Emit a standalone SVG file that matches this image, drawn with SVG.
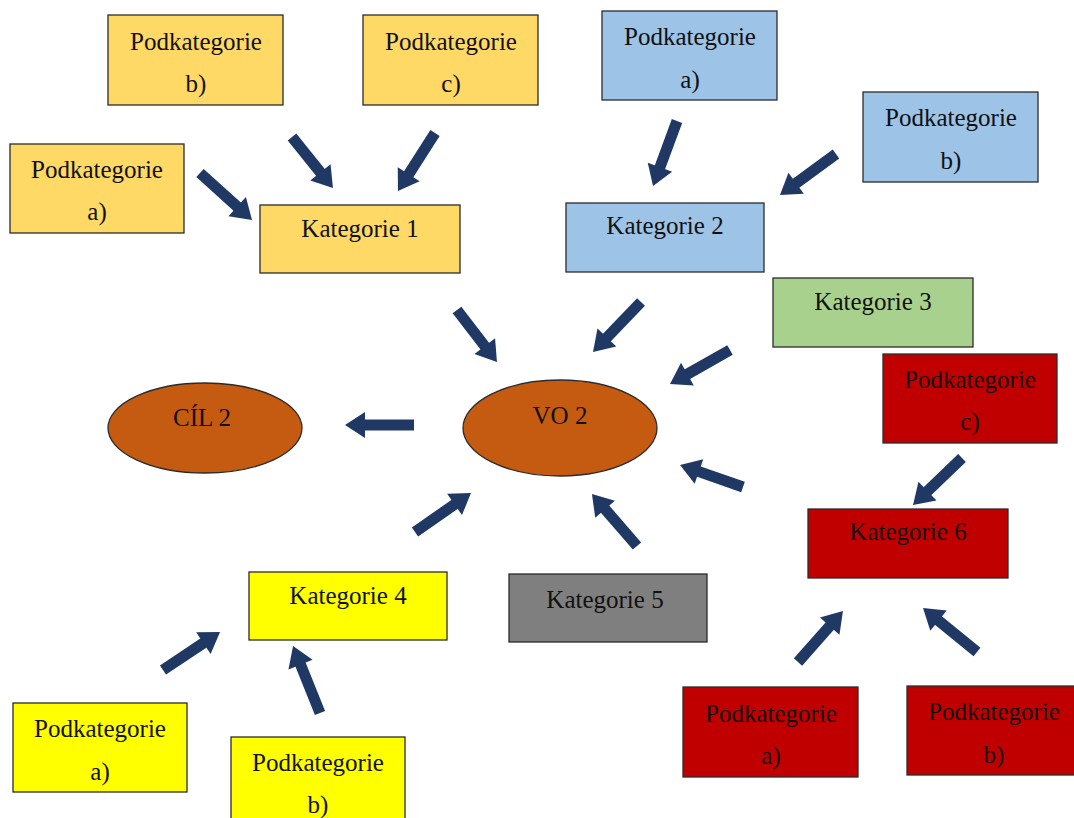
<svg xmlns="http://www.w3.org/2000/svg" width="1074" height="818" viewBox="0 0 1074 818">
<style>
.bx{stroke:#2b2b2b;stroke-width:1.3}
.o{fill:#FFD966}.b{fill:#9DC3E6}.g{fill:#A9D18E}.y{fill:#FFFF00}.gr{fill:#7F7F7F}.r{fill:#C00000}.el{fill:#C55A11;stroke:#2b2b2b;stroke-width:1.3}
text{font-family:"Liberation Serif","Times New Roman",serif;font-size:25px;fill:#111;text-anchor:middle}
.ar{stroke:#1F3864;stroke-width:11;fill:none;marker-end:url(#ah)}
</style>
<defs>
<marker id="ah" markerUnits="userSpaceOnUse" markerWidth="21" markerHeight="27" viewBox="0 0 21 27" refX="3" refY="13.5" orient="auto" overflow="visible">
<path d="M0,0.5 L20,13.5 L0,26.5 z" fill="#1F3864"/>
</marker>
</defs>
<rect width="1074" height="818" fill="#fff"/>
<g id="connectors">
<line class="ar" x1="292" y1="137" x2="322.3" y2="174.7"/>
<line class="ar" x1="435" y1="133" x2="407.1" y2="176.7"/>
<line class="ar" x1="200" y1="173" x2="239.4" y2="208.6"/>
<line class="ar" x1="677" y1="121" x2="658.9" y2="170.1"/>
<line class="ar" x1="836" y1="154" x2="793.7" y2="185"/>
<line class="ar" x1="457" y1="310" x2="486.6" y2="348.5"/>
<line class="ar" x1="641" y1="302" x2="604.8" y2="339.7"/>
<line class="ar" x1="730" y1="350" x2="684.8" y2="375.6"/>
<line class="ar" x1="414" y1="425" x2="362" y2="425"/>
<line class="ar" x1="743" y1="487" x2="696.1" y2="470.6"/>
<line class="ar" x1="637" y1="546" x2="603.1" y2="506.9"/>
<line class="ar" x1="415" y1="532" x2="457" y2="502.7"/>
<line class="ar" x1="163" y1="670" x2="205.9" y2="641.4"/>
<line class="ar" x1="320" y1="713" x2="299.4" y2="661.8"/>
<line class="ar" x1="962" y1="458" x2="925.3" y2="493.2"/>
<line class="ar" x1="798" y1="662" x2="831.7" y2="623.8"/>
<line class="ar" x1="977" y1="652" x2="936.2" y2="618.7"/>
</g>
<g id="k1pb"><rect class="bx o" x="108" y="15" width="175" height="90"/><text x="196" y="50">Podkategorie</text><text x="196" y="92">b)</text></g>
<g id="k1pc"><rect class="bx o" x="363" y="15" width="175" height="90"/><text x="451" y="50">Podkategorie</text><text x="451" y="92">c)</text></g>
<g id="k1pa"><rect class="bx o" x="10" y="144" width="174" height="89"/><text x="97" y="178">Podkategorie</text><text x="97" y="220">a)</text></g>
<g id="k1"><rect class="bx o" x="260" y="205" width="200" height="68"/><text x="360" y="237">Kategorie 1</text></g>
<g id="k2pa"><rect class="bx b" x="602" y="11" width="175" height="89"/><text x="690" y="45">Podkategorie</text><text x="690" y="88">a)</text></g>
<g id="k2pb"><rect class="bx b" x="863" y="92" width="175" height="90"/><text x="951" y="126">Podkategorie</text><text x="951" y="169">b)</text></g>
<g id="k2"><rect class="bx b" x="566" y="203" width="198" height="69"/><text x="665" y="234">Kategorie 2</text></g>
<g id="k3"><rect class="bx g" x="773" y="278" width="200" height="69"/><text x="873" y="310">Kategorie 3</text></g>
<g id="cil2"><ellipse class="el" cx="205" cy="428" rx="97" ry="45"/><text x="202" y="426">CÍL 2</text></g>
<g id="vo2"><ellipse class="el" cx="560" cy="428" rx="97" ry="48"/><text x="560" y="424">VO 2</text></g>
<g id="k6pc"><rect class="bx r" x="883" y="354" width="174" height="89"/><text x="970" y="388">Podkategorie</text><text x="970" y="430">c)</text></g>
<g id="k6"><rect class="bx r" x="808" y="509" width="200" height="69"/><text x="908" y="540">Kategorie 6</text></g>
<g id="k6pa"><rect class="bx r" x="683" y="687" width="175" height="90"/><text x="771" y="722">Podkategorie</text><text x="771" y="764">a)</text></g>
<g id="k6pb"><rect class="bx r" x="907" y="686" width="175" height="89"/><text x="994" y="720">Podkategorie</text><text x="994" y="763">b)</text></g>
<g id="k4"><rect class="bx y" x="249" y="572" width="198" height="68"/><text x="348" y="604">Kategorie 4</text></g>
<g id="k5"><rect class="bx gr" x="509" y="574" width="198" height="68"/><text x="605" y="608">Kategorie 5</text></g>
<g id="k4pa"><rect class="bx y" x="13" y="703" width="174" height="89"/><text x="100" y="737">Podkategorie</text><text x="100" y="780">a)</text></g>
<g id="k4pb"><rect class="bx y" x="231" y="737" width="174" height="90"/><text x="318" y="771">Podkategorie</text><text x="318" y="813">b)</text></g>
</svg>
